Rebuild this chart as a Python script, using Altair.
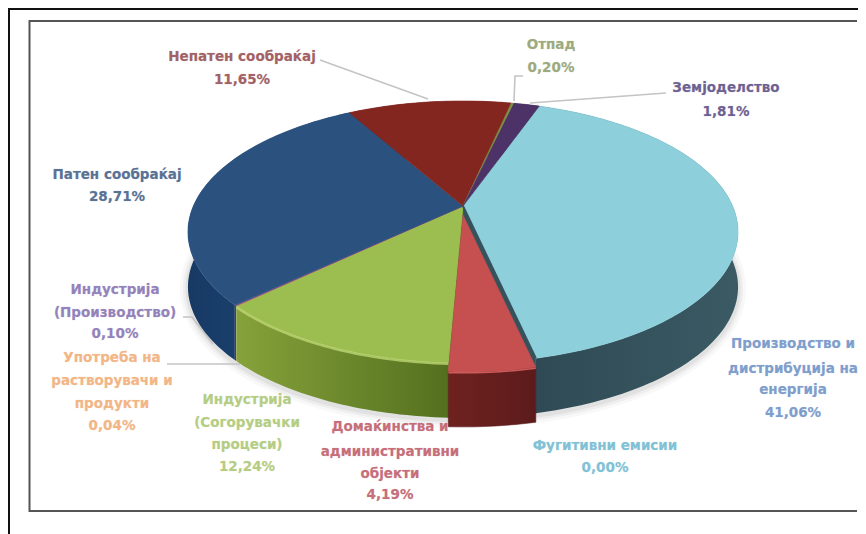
import numpy as np
import pandas as pd
import altair as alt

# ---- chart values -----
shares = [41.06, 0.00, 4.19, 12.24, 0.04, 0.10, 28.71, 11.65, 0.20, 1.81]
names = ["energy", "fugitive", "households", "combustion", "solvents", "production",
         "road", "nonroad", "waste", "agri"]
top_colors = ["#8dd0dc", "#8dd0dc", "#c64f4f", "#9cbd50", "#d98a45", "#6a4f96",
              "#2b517f", "#842620", "#7f8f4a", "#4c3266"]
wall_left = ["#2f4a55", "#2f4a55", "#6a2020", "#86a23a", "#9a6030", "#3a2a55",
             "#1f4a7c", "#5a1814", "#55602f", "#33224a"]
wall_right = ["#3a5a64", "#3a5a64", "#5e1c1c", "#54701f", "#9a6030", "#3a2a55",
              "#173a64", "#5a1814", "#55602f", "#33224a"]

label_lines = [
    ["Непатен сообраќај", "11,65%"],
    ["Отпад", "0,20%"],
    ["Земјоделство", "1,81%"],
    ["Патен сообраќај", "28,71%"],
    ["Индустрија", "(Производство)", "0,10%"],
    ["Употреба на", "растворувачи и", "продукти", "0,04%"],
    ["Индустрија", "(Согорувачки", "процеси)", "12,24%"],
    ["Домаќинства и", "административни", "објекти", "4,19%"],
    ["Фугитивни емисии", "0,00%"],
    ["Производство и", "дистрибуција на", "енергија", "41,06%"],
]
label_colors = ["#8b3a3f", "#84955f", "#4a3a78", "#2f4f7a", "#7a64aa", "#f0a468",
                "#a3c163", "#b84a58", "#62b2cc", "#5f86c0"]
label_cx = [242, 551, 726, 117, 115, 112, 247, 390, 605, 793]
label_ys = [[57, 80], [45, 68], [88, 112], [175, 197], [290, 313, 334],
            [358, 381, 404, 426], [400, 423, 445, 467], [427, 452, 474, 495],
            [446, 468], [344, 369, 390, 413]]

leaders = [
    ([320, 428], [60, 99]),
    ([523, 515, 514], [76, 76, 101]),
    ([666, 530], [93, 103]),
    ([183, 192, 213], [317, 317, 344]),
    ([167, 240], [364, 364]),
]

# ---- layout of the tilted pie -----
CX, CY, R, RV, P = 463.0, 206.0, 269.6, 125.8, 0.198
DEPTH = 55.0
START = 19.6
EXPLODE = {"households": (0.0, 9.0)}

xs = alt.Scale(domain=[8, 858], nice=False, zero=False)
ys = alt.Scale(domain=[534, 8], nice=False, zero=False)


def project(deg):
    a = np.radians(deg)
    X, Y = np.sin(a), -np.cos(a)
    w = 1 - P * Y
    return CX + R * X / w, CY + RV * Y / w


def frame(px, py):
    return pd.DataFrame({"x": px, "y": py, "i": np.arange(len(px))})


def path(px, py, **mark):
    return alt.Chart(frame(px, py)).mark_line(**mark).encode(
        x=alt.X("x:Q", scale=xs, axis=None),
        y=alt.Y("y:Q", scale=ys, axis=None),
        order="i:Q",
    )


def poly(px, py, fill, **mark):
    px = list(px) + [px[0]]
    py = list(py) + [py[0]]
    mark.setdefault("strokeWidth", 0.6)
    mark.setdefault("stroke", fill if isinstance(fill, str) else "#333333")
    return path(px, py, fill=fill, **mark)


def hgrad(c0, c1):
    return alt.LinearGradient(
        gradient="linear", x1=0, x2=1, y1=0, y2=0,
        stops=[alt.GradientStop(color=c0, offset=0), alt.GradientStop(color=c1, offset=1)],
    )


edges = START + np.concatenate([[0], np.cumsum(shares)]) * 3.6
arcs = []
for k, s in enumerate(shares):
    n = max(2, int(s * 3) + 2)
    arcs.append(np.linspace(edges[k], edges[k + 1], n))

layers = []

# page border and inner frame
layers.append(path([858, 9, 9], [9, 9, 534], stroke="#111111", strokeWidth=2))
layers.append(path([857, 29.5, 29.5, 857], [21, 21, 511, 511], stroke="#555555", strokeWidth=2))

# soft shadow below the near rim
sa = np.linspace(edges[0] + 60, edges[0] + 280, 120)
sx, sy = project(sa)
for w, o in [(16, 0.05), (10, 0.07), (5, 0.10)]:
    layers.append(path(sx, sy + DEPTH + 2, stroke="#777777", strokeWidth=w, opacity=o))

# leader lines
for lx, ly in leaders:
    layers.append(path(lx, ly, stroke="#c4c4c4", strokeWidth=1.6))

# outer walls
order = sorted(range(len(shares)), key=lambda k: project(arcs[k].mean())[1])
for k in order:
    if names[k] == "households" or shares[k] == 0:
        continue
    px, py = project(arcs[k])
    layers.append(poly(list(px) + list(px[::-1]), list(py) + list(py[::-1] + DEPTH),
                       hgrad(wall_left[k], wall_right[k]) if px[0] > px[-1] else hgrad(wall_right[k], wall_left[k]),
                       stroke="#00000000"))

# cut faces seen in the gap left by the exploded wedge
hk = names.index("households")
tx, ty = project(np.array([edges[hk]]))
bx, by = project(np.array([edges[hk + 1]]))
layers.append(poly([CX, tx[0], tx[0], CX], [CY, ty[0], ty[0] + DEPTH, CY + DEPTH], "#35525c"))
layers.append(poly([CX, bx[0], bx[0], CX], [CY, by[0], by[0] + DEPTH, CY + DEPTH], "#54701f"))

# top faces except exploded one
for k, s in enumerate(shares):
    if names[k] == "households" or s == 0:
        continue
    px, py = project(arcs[k])
    layers.append(poly([CX] + list(px), [CY] + list(py), top_colors[k]))

# highlight on green rim
gk = names.index("combustion")
gx, gy = project(arcs[gk])
layers.append(path(gx, gy + 1, stroke="#bcd672", strokeWidth=2.5, opacity=0.8))

# exploded wedge
ex, ey = project(arcs[hk])
dx, dy = EXPLODE["households"]
layers.append(path([CX, tx[0]], [CY, ty[0]], stroke="#35525c", strokeWidth=2))
hx, hy = ex + dx, ey + dy
layers.append(poly(list(hx) + list(hx[::-1]), list(hy) + list(hy[::-1] + DEPTH),
                   hgrad("#6e2220", "#5c1b1b"), stroke="#5c1b1b"))
layers.append(poly([CX + dx] + list(hx), [CY + dy] + list(hy), top_colors[hk]))
layers.append(path(hx, hy + 1, stroke="#d05a5a", strokeWidth=1.5))

# labels
for lines, col, cx, yy in zip(label_lines, label_colors, label_cx, label_ys):
    for t, y in zip(lines, yy):
        layers.append(
            alt.Chart(pd.DataFrame({"t": [t]})).mark_text(
                font="DejaVu Sans", fontWeight="bold", fontSize=13.5, color=col,
                align="center", baseline="middle", stroke=col, strokeWidth=0.7, strokeOpacity=0.3,
                opacity=0.8,
            ).encode(x=alt.value(cx - 8), y=alt.value(y - 8), text="t:N")
        )

chart = alt.layer(*layers).properties(
    width=850, height=526, padding=0, autosize=alt.AutoSizeParams(type="none"),
    background="white",
).configure_view(stroke=None)

chart.save("out.html", embed_options={"renderer": "svg", "actions": False})
